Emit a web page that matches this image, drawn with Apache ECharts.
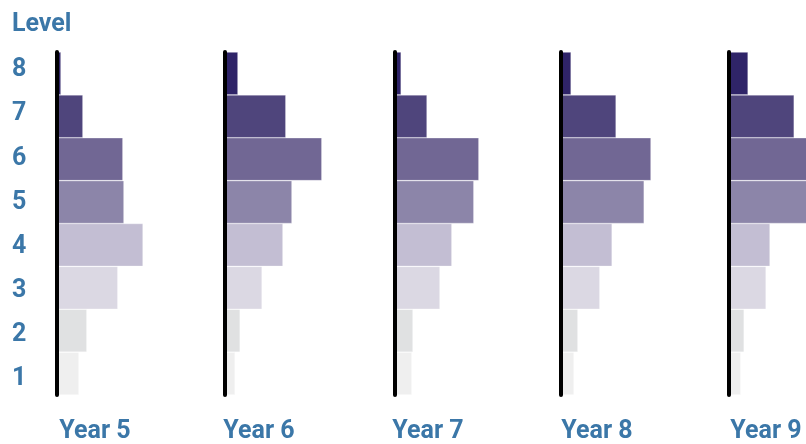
<!DOCTYPE html>
<html>
<head>
<meta charset="utf-8">
<script src="https://cdn.jsdelivr.net/npm/echarts@6/dist/echarts.min.js"></script>
<style>
html,body{margin:0;padding:0;background:#fff;}
#chart{width:806px;height:444px;}
</style>
</head>
<body>
<div id="chart"></div>
<script>
var levels = ['1','2','3','4','5','6','7','8'];
var years = ['Year 5','Year 6','Year 7','Year 8','Year 9'];
// percentage of students at each level (level 1..8)
var year5 = [6.1, 8.3, 16.9, 23.9, 18.6, 18.3, 7.2, 1.1];
var year6 = [2.8, 4.2, 10.3, 16.1, 18.6, 26.9, 16.9, 3.6];
var year7 = [4.7, 5.0, 12.5, 15.8, 21.9, 23.3, 8.9, 1.7];
var year8 = [3.6, 4.7, 10.8, 14.2, 23.1, 25.0, 15.3, 2.8];
var year9 = [3.3, 4.2, 10.3, 11.4, 23.6, 24.4, 18.1, 5.3];
var levelColors = ['#efefef','#e0e1e2','#dbd8e3','#c3bed3','#8c85a9','#716794','#4f457c','#2f2468'];

var allData = [year5, year6, year7, year8, year9];
var gridLefts = [57, 225, 395, 561, 729];
var labelCenters = [95, 259, 428, 597, 766];
var textColor = '#3b77a8';
var font = 'Roboto';

var grids = [], xAxes = [], yAxes = [], series = [], graphics = [];
allData.forEach(function (vals, i) {
  grids.push({left: gridLefts[i], top: 52, width: 72, height: 343});
  xAxes.push({type: 'value', gridIndex: i, min: 0, max: 20, show: false});
  yAxes.push({
    type: 'category', gridIndex: i, data: levels, offset: 2, z: 5,
    axisLine: {show: true, lineStyle: {color: '#000', width: 4}},
    axisTick: {show: false}, axisLabel: {show: false}, splitLine: {show: false}
  });
  series.push({
    type: 'bar', xAxisIndex: i, yAxisIndex: i, barCategoryGap: 0, clip: false,
    data: vals.map(function (v, k) {
      return {value: v, itemStyle: {color: levelColors[k], borderColor: 'rgba(255,255,255,0.5)', borderWidth: 0.6}};
    }),
    silent: true, animation: false
  });
  graphics.push({
    type: 'text', x: labelCenters[i], y: 432,
    style: {text: years[i], fill: textColor, font: 'bold 25px ' + font, textAlign: 'center', textVerticalAlign: 'middle'}
  });
});
// label-only axis for level numbers
grids.push({left: 55, top: 48, width: 10, height: 353});
xAxes.push({type: 'value', gridIndex: 5, show: false});
yAxes.push({
  type: 'category', gridIndex: 5, data: levels,
  axisLine: {show: false}, axisTick: {show: false}, splitLine: {show: false},
  axisLabel: {show: true, align: 'left', margin: 43, color: textColor, fontSize: 25, fontWeight: 'bold', fontFamily: font}
});
graphics.push({
  type: 'text', x: 12, y: 25,
  style: {text: 'Level', fill: textColor, font: 'bold 25px ' + font, textAlign: 'left', textVerticalAlign: 'middle'}
});

var chart = echarts.init(document.getElementById('chart'));
chart.setOption({
  animation: false,
  grid: grids, xAxis: xAxes, yAxis: yAxes, series: series, graphic: graphics
});
</script>
</body>
</html>
